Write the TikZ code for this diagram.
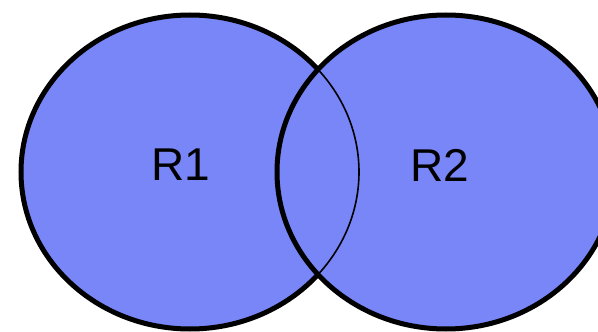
\documentclass[tikz,border=0pt]{standalone}
\usepackage{fontspec}
\setmainfont{Liberation Sans}
\definecolor{regionblue}{RGB}{120,134,248}
\begin{document}
\begin{tikzpicture}[x=1pt,y=-1pt,
		region/.style={draw=black, line width=5pt, fill=regionblue},
		label/.style={font=\fontsize{46}{46}\selectfont, inner sep=0pt}]
		\useasboundingbox (0,0) rectangle (598,332);
		\clip (0,0) rectangle (598,332);
		\coordinate (c1) at (190,172);
		\coordinate (c2) at (446,172);
		\draw[region] (c1) ellipse [x radius=169, y radius=157];
		\draw[region] (c2) ellipse [x radius=169, y radius=157];
		\draw[line width=1.6pt] ([shift={(41:169 and 157)}]c1) arc[start angle=41, end angle=-41, x radius=169, y radius=157];
		\node[label] (r1) at (180.5,165) {R1};
		\node[label] (r2) at (439.5,165) {R2};
		\end{tikzpicture}
\end{document}
